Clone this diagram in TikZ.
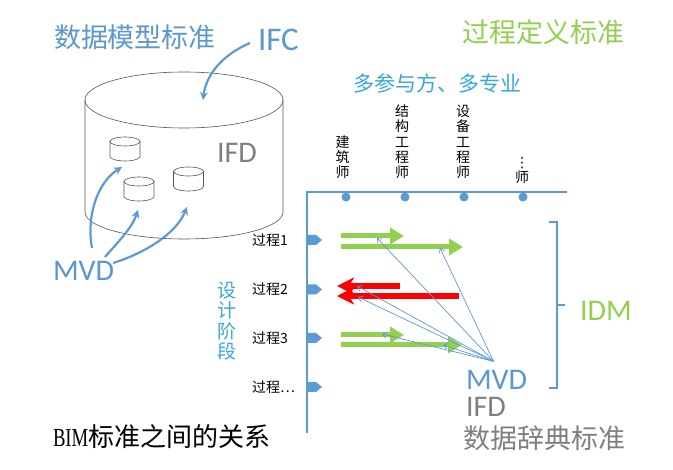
\documentclass[tikz,border=0pt]{standalone}
\usepackage{fontspec}
\setmainfont{Noto Sans CJK SC}
\newfontfamily\latf{Carlito}
\newfontfamily\serf[FakeStretch=0.72]{Liberation Serif}
\newfontfamily\djv{DejaVu Sans}
\usetikzlibrary{arrows.meta}
\definecolor{myblue}{HTML}{5B9BD5}
\definecolor{txtblue}{HTML}{5A98CF}
\definecolor{mygreen}{HTML}{92D050}
\definecolor{mycyan}{HTML}{3AA8D8}
\definecolor{mygray}{HTML}{7F7F7F}
\definecolor{cylcol}{HTML}{555555}
\tikzset{
  txt/.style={inner sep=0pt, outer sep=0pt},
  latin/.style={txt, font=\latf\fontsize{30}{30}\selectfont},
  cylline/.style={draw=cylcol, line width=0.6pt},
  bluecurve/.style={draw=myblue, line width=2.2pt, -{Stealth[length=8pt,width=8pt]}},
  axisline/.style={draw=myblue, line width=2.5pt},
  dotnode/.style={circle, fill=myblue, inner sep=0pt, minimum size=9pt},
  greenarrow/.style={draw=mygreen, line width=5pt, -{Triangle[length=14pt,width=16pt]}},
  redarrow/.style={draw=red, line width=5.5pt, -{Stealth[length=17pt,width=17pt,inset=5pt]}},
  thinarrow/.style={draw=myblue, line width=0.7pt, -{Straight Barb[length=4pt,width=6pt]}},
  collabel/.style={txt, anchor=south, align=center, font=\fontsize{14}{15.4}\selectfont},
  proclabel/.style={txt, anchor=west, font=\fontsize{14}{14}\selectfont},
  minicyl/.pic={
    \draw[cylline] (0,0) ellipse [x radius=15, y radius=4.5];
    \draw[cylline] (-15,0) -- (-15,15) arc [start angle=180, end angle=0, x radius=15, y radius=4.5] -- (15,0);
  }
}
\begin{document}
\begin{tikzpicture}[x=1pt,y=-1pt]
\useasboundingbox[fill=white] (0,0) rectangle (673,470);

% ---------- left: data model standard ----------
\node[txt, anchor=west, font=\fontsize{27}{27}\selectfont, text=txtblue] (t1) at (54,37) {数据模型标准};
\node[latin, anchor=west, text=txtblue, font=\latf\fontsize{33}{33}\selectfont] (ifc) at (258,40) {IFC};

% big cylinder
\draw[cylline] (184,100) ellipse [x radius=99, y radius=28];
\draw[cylline] (85,100) -- (85,212) arc [start angle=180, end angle=0, x radius=99, y radius=27] -- (283,100);

% small cylinders
\pic at (125,141.5) {minicyl};
\pic at (139,181.5) {minicyl};
\pic at (188.5,171.5) {minicyl};

\node[latin, anchor=west, text=mygray] (ifdA) at (217,153) {IFD};

\coordinate (topin) at (203,100);
\draw[bluecurve] ([shift={(-8,3)}]ifc.west) .. controls (222,55) and (206,75) .. (topin);

\node[latin, anchor=west, text=txtblue] (mvdL) at (53,271) {MVD};
\coordinate (c1) at (122,167);
\coordinate (c2) at (138,210);
\coordinate (c3) at (187,207);
\draw[bluecurve] ([shift={(39,-23)}]mvdL.west) .. controls (86,215) and (98,182) .. (c1);
\draw[bluecurve] ([shift={(52,-14)}]mvdL.west) .. controls (118,242) and (132,228) .. (c2);
\draw[bluecurve] ([shift={(-1,-8)}]mvdL.east) .. controls (148,252) and (177,232) .. (c3);

% ---------- right: process definition ----------
\node[txt, anchor=west, font=\fontsize{27}{27}\selectfont, text=mygreen] (t2) at (462,32) {过程定义标准};
\node[txt, anchor=west, font=\fontsize{21}{21}\selectfont, text=mycyan] (t3) at (353,83) {多参与方、多专业};

\node[collabel] (p1) at (342.5,179) {建\\筑\\师};
\node[collabel] (p2) at (402,179) {结\\构\\工\\程\\师};
\node[collabel] (p3) at (463,179) {设\\备\\工\\程\\师};
\node[collabel] (p4) at (522,184) {{\djv ⋮}\\师};

\coordinate (axbot) at (307,433);
\coordinate (axcorner) at (307,192);
\coordinate (axright) at (567,192);
\draw[axisline] (axbot) -- (axcorner) -- (axright);

\node[dotnode] (d1) at (346,197) {};
\node[dotnode] (d2) at (405,197) {};
\node[dotnode] (d3) at (464,197) {};
\node[dotnode] (d4) at (523,197) {};

\foreach \yy in {240,289.5,338,387}{
  \fill[myblue] (306,\yy-5) -- (316,\yy-5) -- (322,\yy) -- (316,\yy+5) -- (306,\yy+5) -- cycle;
}
\node[proclabel] (s1) at (252,240) {过程1};
\node[proclabel] (s2) at (252,289.5) {过程2};
\node[proclabel] (s3) at (252,338) {过程3};
\node[proclabel] (s4) at (252,387) {过程…};

\node[txt, align=center, font=\fontsize{19}{20.5}\selectfont, text=mycyan] (phase) at (227,321) {设\\计\\阶\\段};

% process arrows
\coordinate (g1s) at (341,236); \coordinate (g1e) at (404,236);
\coordinate (g2s) at (341,247); \coordinate (g2e) at (463,247);
\coordinate (r1s) at (400,286); \coordinate (r1e) at (337,286);
\coordinate (r2s) at (459,296); \coordinate (r2e) at (337,296);
\coordinate (g3s) at (341,335); \coordinate (g3e) at (404,335);
\coordinate (g4s) at (341,345); \coordinate (g4e) at (462,345);
\draw[greenarrow] (g1s) -- (g1e);
\draw[greenarrow] (g2s) -- (g2e);
\draw[redarrow] (r1s) -- (r1e);
\draw[redarrow] (r2s) -- (r2e);
\draw[greenarrow] (g3s) -- (g3e);
\draw[greenarrow] (g4s) -- (g4e);

% bracket
\draw[axisline] (549,222) -- (557,222) -- (557,388) -- (549,388);
\draw[axisline] (557,305) -- (565,305);
\node[latin, anchor=west, text=mygreen] (idm) at (580,311) {IDM};

% MVD / IFD / dictionary
\node[latin, anchor=west, text=txtblue] (mvdR) at (466,380) {MVD};
\node[latin, anchor=west, text=mygray] (ifdB) at (466,407) {IFD};
\node[txt, anchor=west, font=\fontsize{27}{27}\selectfont, text=mygray] (t4) at (463,438) {数据辞典标准};

\coordinate (mv) at ([shift={(-3,-9)}]mvdR.north);
\coordinate (a1) at (377,238);
\coordinate (a2) at (440,248);
\coordinate (a3) at (357,286);
\coordinate (a4) at (358,297);
\coordinate (a5) at (382,334);
\coordinate (a6) at (443,345);
\foreach \t in {a1,a2,a3,a4,a5,a6}{
  \draw[thinarrow] (mv) -- (\t);
}

\node[txt, anchor=west, font=\fontsize{26}{26}\selectfont] (cap) at (53,437) {{\serf BIM}标准之间的关系};
\end{tikzpicture}
\end{document}
